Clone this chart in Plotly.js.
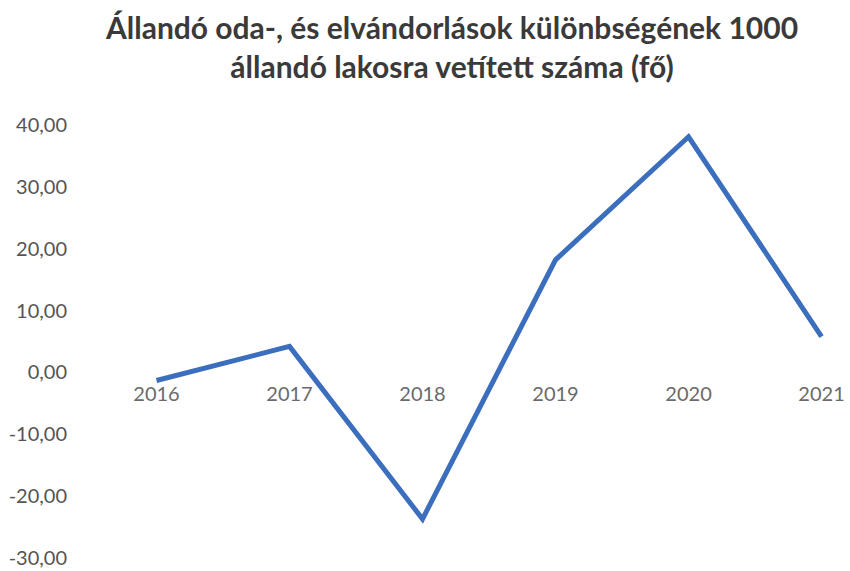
<!DOCTYPE html>
<html>
<head>
<meta charset="utf-8">
<script src="https://cdn.plot.ly/plotly-3.0.1.min.js"></script>
<style>html,body{margin:0;padding:0;background:#fff;}#chart{width:850px;height:571px;}</style>
</head>
<body>
<div id="chart"></div>
<script>
const years = ["2016", "2017", "2018", "2019", "2020", "2021"];
const values = [-1.3, 4.2, -23.7, 18.2, 38.1, 5.8];
const yTicks = [40, 30, 20, 10, 0, -10, -20, -30];
const yTickLabels = ["40,00", "30,00", "20,00", "10,00", "0,00", "-10,00", "-20,00", "-30,00"];
const titleText = "Állandó oda-, és elvándorlások különbségének 1000<br>állandó lakosra vetített száma (fő)";

const yMin = -30, yMax = 40;
const trace = {
  x: years,
  y: values,
  type: "scatter",
  mode: "lines",
  line: {color: "#3b6fbd", width: 5},
  hoverinfo: "skip"
};

const layout = {
  width: 850,
  height: 571,
  margin: {l: 90, r: 0, t: 125, b: 13},
  paper_bgcolor: "#ffffff",
  plot_bgcolor: "#ffffff",
  showlegend: false,
  title: {
    text: titleText,
    font: {family: "Lato, sans-serif", size: 30, color: "#3a3a3a", weight: "bold"},
    x: 452/850, xanchor: "center",
    y: 1 - 39/571, yanchor: "top",
    xref: "container", yref: "container"
  },
  xaxis: {
    type: "category",
    range: [-0.5, 5.214],
    anchor: "free",
    position: (0 - yMin) / (yMax - yMin),
    showgrid: false,
    zeroline: false,
    showline: false,
    ticks: "",
    tickfont: {family: "Lato, sans-serif", size: 20, color: "#6a6a6a"},
    ticklabelstandoff: 8
  },
  yaxis: {
    range: [yMin, yMax],
    tickvals: yTicks,
    ticktext: yTickLabels,
    showgrid: false,
    zeroline: false,
    showline: false,
    ticks: "",
    tickfont: {family: "Lato, sans-serif", size: 20, color: "#555555"},
    ticklabelstandoff: 22
  }
};

Plotly.newPlot("chart", [trace], layout, {displayModeBar: false, staticPlot: true});
</script>
</body>
</html>
